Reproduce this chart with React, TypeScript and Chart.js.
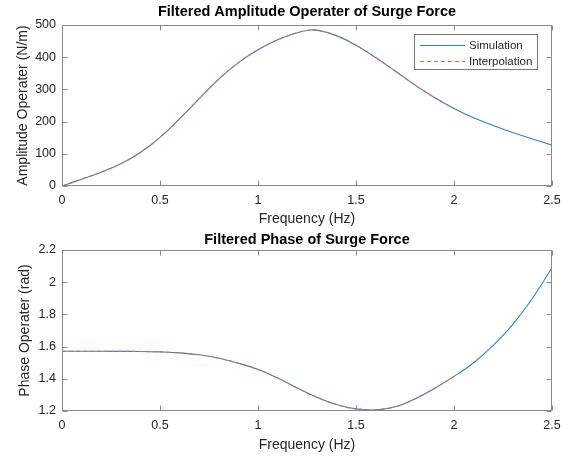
import React, { useEffect, useRef } from "react";
import { Chart, registerables } from "chart.js";

Chart.register(...registerables);

// ---- data ----
const FREQ = [0, 0.1, 0.2, 0.3, 0.4, 0.5, 0.6, 0.7, 0.8, 0.9, 1.0, 1.1, 1.2, 1.25, 1.3, 1.4, 1.5, 1.6, 1.7, 1.8, 1.9, 2.0, 2.1, 2.2, 2.3, 2.4, 2.5];
const AMP_SIM = [0, 21, 43, 69, 104, 151, 209, 271, 332, 383, 423, 454, 476, 483, 484, 467, 437, 399, 357, 314, 275, 241, 212, 188, 166, 146, 127];
const FREQ_INTERP = [0, 0.1, 0.2, 0.3, 0.4, 0.5, 0.6, 0.7, 0.8, 0.9, 1.0, 1.1, 1.2, 1.25, 1.3, 1.4, 1.5, 1.6, 1.7, 1.8, 1.9, 2.0];
const AMP_INTERP = [0, 21, 43, 69, 104, 151, 209, 271, 332, 383, 423, 454, 476, 483, 484, 467, 437, 399, 357, 314, 275, 241];

const PHASE_FREQ = [0, 0.1, 0.2, 0.3, 0.4, 0.5, 0.6, 0.7, 0.8, 0.9, 1.0, 1.1, 1.2, 1.3, 1.4, 1.5, 1.6, 1.7, 1.8, 1.9, 2.0, 2.1, 2.2, 2.3, 2.4, 2.5];
const PHASE_SIM = [1.5708, 1.5708, 1.5707, 1.5705, 1.570, 1.567, 1.561, 1.549, 1.528, 1.497, 1.458, 1.405, 1.343, 1.285, 1.240, 1.213, 1.207, 1.226, 1.275, 1.340, 1.415, 1.500, 1.608, 1.738, 1.900, 2.090];
const PHASE_FREQ_INTERP = [0, 0.1, 0.2, 0.3, 0.4, 0.5, 0.6, 0.7, 0.8, 0.9, 1.0, 1.1, 1.2, 1.3, 1.4, 1.5, 1.6, 1.7, 1.8, 1.9, 2.0];
const PHASE_INTERP = [1.5708, 1.5708, 1.5707, 1.5705, 1.570, 1.567, 1.561, 1.549, 1.528, 1.497, 1.458, 1.405, 1.343, 1.285, 1.240, 1.213, 1.207, 1.226, 1.275, 1.340, 1.415];

const X_TICKS = [0, 0.5, 1, 1.5, 2, 2.5];
const AMP_TICKS = [0, 100, 200, 300, 400, 500];
const PHASE_TICKS = [1.2, 1.4, 1.6, 1.8, 2, 2.2];

const SERIES_NAMES = ["Simulation", "Interpolation"];
const TITLES = ["Filtered Amplitude Operater of Surge Force", "Filtered Phase of Surge Force"];
const Y_LABELS = ["Amplitude Operater (N/m)", "Phase Operater (rad)"];
const X_LABEL = "Frequency (Hz)";

// ---- styles ----
const FONT = "'Liberation Sans', Arial, Helvetica, sans-serif";
const TEXT = "#262626";
const AXIS = "#8a8a8a";
const SERIES_COLORS = ["#2a86cc", "#e4683a"];
const SERIES_DASH: number[][] = [[], [4, 3]];

const framePlugin = {
  id: "frame",
  afterDatasetsDraw(chart: any, _args: any, opts: any) {
    const { ctx, chartArea: a } = chart;
    const xs = chart.scales.x;
    const ys = chart.scales.y;
    const L = Math.round(a.left) + 0.5;
    const R = Math.round(a.right) - 0.5;
    const T = Math.round(a.top) + 0.5;
    const B = Math.round(a.bottom) - 0.5;
    ctx.save();
    ctx.setLineDash([]);
    ctx.strokeStyle = AXIS;
    ctx.lineWidth = 1;
    ctx.beginPath();
    ctx.rect(L, T, R - L, B - T);
    const tl = 5;
    xs.ticks.forEach((t: any) => {
      const p = Math.round(xs.getPixelForValue(t.value)) + 0.5;
      ctx.moveTo(p, B);
      ctx.lineTo(p, B - tl);
      ctx.moveTo(p, T);
      ctx.lineTo(p, T + tl);
    });
    ys.ticks.forEach((t: any) => {
      const p = Math.round(ys.getPixelForValue(t.value)) + 0.5;
      ctx.moveTo(L, p);
      ctx.lineTo(L + tl, p);
      ctx.moveTo(R, p);
      ctx.lineTo(R - tl, p);
    });
    ctx.stroke();

    // title centred over the plot area
    ctx.fillStyle = "#000";
    ctx.font = `bold 14.5px ${FONT}`;
    ctx.textAlign = "center";
    ctx.textBaseline = "middle";
    ctx.fillText(opts.title, (a.left + a.right) / 2, opts.titleY);

    if (opts.legend) {
      const bw = 123, bh = 35;
      const bx = Math.round(a.right - 15 - bw);
      const by = Math.round(a.top + 9);
      ctx.fillStyle = "#ffffff";
      ctx.fillRect(bx, by, bw, bh);
      ctx.strokeStyle = "#7a7a7a";
      ctx.lineWidth = 1;
      ctx.strokeRect(bx + 0.5, by + 0.5, bw, bh);
      SERIES_NAMES.forEach((name, i) => {
        const y = by + 11 + i * 16;
        const x0 = bx + 6, x1 = bx + 51;
        ctx.fillStyle = SERIES_COLORS[i];
        const dash = SERIES_DASH[i];
        if (dash.length === 0) {
          ctx.fillRect(x0, y, x1 - x0, 1);
        } else {
          for (let x = x0; x < x1; x += dash[0] + dash[1]) {
            ctx.fillRect(x, y, Math.min(dash[0], x1 - x), 1);
          }
        }
        ctx.fillStyle = TEXT;
        ctx.font = `11.5px ${FONT}`;
        ctx.textAlign = "left";
        ctx.textBaseline = "middle";
        ctx.fillText(name, bx + 55, y + 0.5);
      });
    }
    ctx.restore();
  },
};

function makeConfig(
  xsSim: number[], ysSim: number[], xsInt: number[], ysInt: number[],
  yTicks: number[], yLabel: string, title: string, legend: boolean,
  layout: { top: number; titleY: number; xHeight: number; tickPad: number; xTitlePad: number; yTitlePad: number }
): any {
  return {
    type: "line",
    data: {
      datasets: [
        {
          label: SERIES_NAMES[0],
          data: xsSim.map((x, i) => ({ x, y: ysSim[i] })),
          borderColor: SERIES_COLORS[0],
          borderWidth: 1.1,
          pointRadius: 0,
          fill: false,
          order: 2,
          tension: 0.4,
        },
        {
          label: SERIES_NAMES[1],
          data: xsInt.map((x, i) => ({ x, y: ysInt[i] })),
          borderColor: SERIES_COLORS[1],
          borderWidth: 1.1,
          borderDash: SERIES_DASH[1],
          pointRadius: 0,
          fill: false,
          order: 1,
          tension: 0.4,
        },
      ],
    },
    options: {
      animation: false,
      responsive: true,
      maintainAspectRatio: false,
      layout: { padding: { top: layout.top, right: 18, left: 0, bottom: 0 } },
      plugins: {
        legend: { display: false },
        tooltip: { enabled: false },
        title: { display: false },
        frame: { title, titleY: layout.titleY, legend },
      },
      scales: {
        x: {
          type: "linear",
          min: X_TICKS[0],
          max: X_TICKS[X_TICKS.length - 1],
          afterBuildTicks: (s: any) => { s.ticks = X_TICKS.map((v) => ({ value: v })); },
          afterFit: (s: any) => { s.height = layout.xHeight; },
          grid: { display: false, drawTicks: false },
          border: { display: false },
          ticks: {
            padding: layout.tickPad,
            color: TEXT,
            font: { size: 12.5, family: FONT },
            maxRotation: 0,
            callback: (v: any) => String(Math.round(Number(v) * 10) / 10),
          },
          title: {
            display: true,
            text: X_LABEL,
            color: TEXT,
            font: { size: 14, family: FONT },
            padding: { top: 0, bottom: layout.xTitlePad },
          },
        },
        y: {
          type: "linear",
          min: yTicks[0],
          max: yTicks[yTicks.length - 1],
          afterBuildTicks: (s: any) => { s.ticks = yTicks.map((v) => ({ value: v })); },
          afterFit: (s: any) => { s.width = 62; },
          grid: { display: false, drawTicks: false },
          border: { display: false },
          ticks: {
            padding: 6,
            color: TEXT,
            font: { size: 12.5, family: FONT },
            callback: (v: any) => String(Math.round(Number(v) * 10) / 10),
          },
          title: {
            display: true,
            text: yLabel,
            color: TEXT,
            font: { size: 14, family: FONT },
            padding: { top: layout.yTitlePad, bottom: 0 },
          },
        },
      },
    },
    plugins: [framePlugin],
  };
}

export default function App() {
  const c1 = useRef<HTMLCanvasElement>(null);
  const c2 = useRef<HTMLCanvasElement>(null);

  useEffect(() => {
    const ch1 = new Chart(
      c1.current as HTMLCanvasElement,
      makeConfig(FREQ, AMP_SIM, FREQ_INTERP, AMP_INTERP, AMP_TICKS, Y_LABELS[0], TITLES[0], true,
        { top: 25, titleY: 12, xHeight: 43, tickPad: 7.5, xTitlePad: 1.6, yTitlePad: 15 })
    );
    const ch2 = new Chart(
      c2.current as HTMLCanvasElement,
      makeConfig(PHASE_FREQ, PHASE_SIM, PHASE_FREQ_INTERP, PHASE_INTERP, PHASE_TICKS, Y_LABELS[1], TITLES[1], false,
        { top: 21, titleY: 11, xHeight: 47, tickPad: 7.5, xTitlePad: 4.6, yTitlePad: 17 })
    );
    return () => {
      ch1.destroy();
      ch2.destroy();
    };
  }, []);

  return (
    <div style={{ position: "absolute", left: 0, top: 0, width: 570, height: 458, background: "#fff" }}>
      <div style={{ position: "relative", width: 570, height: 229 }}>
        <canvas ref={c1} />
      </div>
      <div style={{ position: "relative", width: 570, height: 229 }}>
        <canvas ref={c2} />
      </div>
    </div>
  );
}
